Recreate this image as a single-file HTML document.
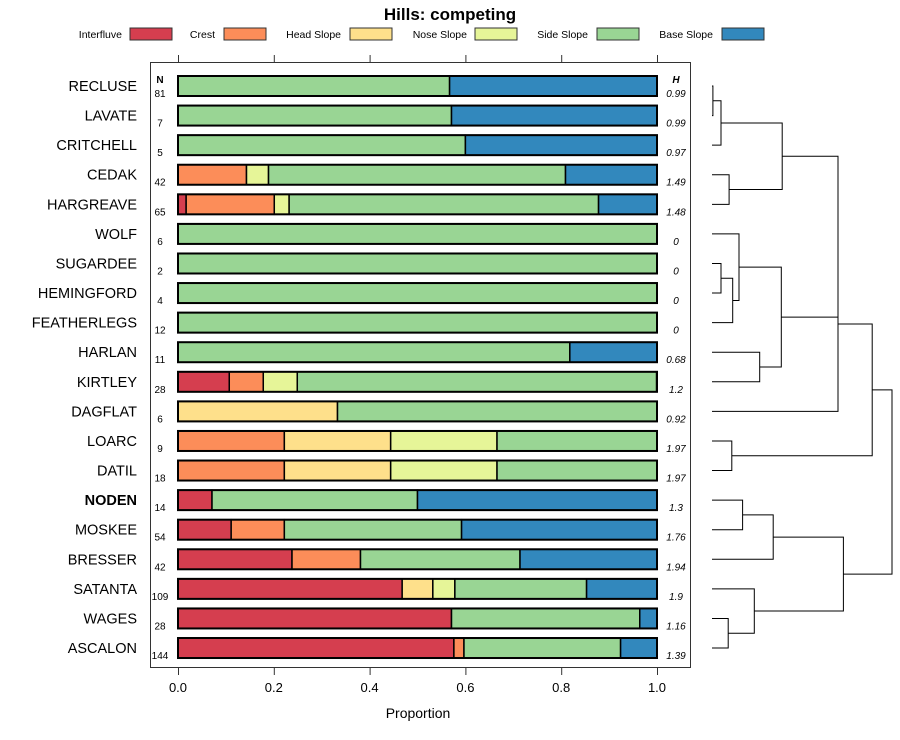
<!DOCTYPE html>
<html><head><meta charset="utf-8"><style>
body{margin:0;background:#fff;font-family:"Liberation Sans",sans-serif}
svg{display:block}
</style></head><body>
<svg id="chart" width="900" height="740" xmlns="http://www.w3.org/2000/svg" font-family="Liberation Sans, sans-serif"></svg>
<script>
const categories=["RECLUSE","LAVATE","CRITCHELL","CEDAK","HARGREAVE","WOLF","SUGARDEE","HEMINGFORD","FEATHERLEGS","HARLAN","KIRTLEY","DAGFLAT","LOARC","DATIL","NODEN","MOSKEE","BRESSER","SATANTA","WAGES","ASCALON"];
const seriesNames=["Interfluve","Crest","Head Slope","Nose Slope","Side Slope","Base Slope"];
const interfluve=[0,0,0,0,0.017,0,0,0,0,0,0.107,0,0,0,0.071,0.111,0.238,0.468,0.571,0.576];
const crest=[0,0,0,0.143,0.184,0,0,0,0,0,0.071,0,0.222,0.222,0,0.111,0.143,0,0,0.021];
const headSlope=[0,0,0,0,0,0,0,0,0,0,0,0.333,0.222,0.222,0,0,0,0.064,0,0];
const noseSlope=[0,0,0,0.046,0.031,0,0,0,0,0,0.071,0,0.222,0.222,0,0,0,0.046,0,0];
const sideSlope=[0.567,0.571,0.6,0.62,0.646,1,1,1,1,0.818,0.75,0.667,0.334,0.334,0.429,0.37,0.333,0.275,0.393,0.327];
const baseSlope=[0.433,0.429,0.4,0.191,0.122,0,0,0,0,0.182,0,0,0,0,0.5,0.408,0.286,0.147,0.036,0.076];
const nValues=["81","7","5","42","65","6","2","4","12","11","28","6","9","18","14","54","42","109","28","144"];
const hValues=["0.99","0.99","0.97","1.49","1.48","0","0","0","0","0.68","1.2","0.92","1.97","1.97","1.3","1.76","1.94","1.9","1.16","1.39"];
const xTicks=["0.0","0.2","0.4","0.6","0.8","1.0"];
const merges=[[0,1,0.005],["m0",2,0.05],[3,4,0.095],["m1","m2",0.39],[6,7,0.05],["m4",8,0.115],[5,"m5",0.15],[9,10,0.265],["m6","m7",0.385],["m3","m8",0.7],["m9",11,0.7],[12,13,0.11],["m10","m11",0.89],[14,15,0.17],["m13",16,0.34],[18,19,0.09],[17,"m15",0.235],["m14","m16",0.73],["m12","m17",1.0]];
const colors=["#D53E4F","#FC8D59","#FEE08B","#E6F598","#99D594","#3288BD"];
const series=[interfluve,crest,headSlope,noseSlope,sideSlope,baseSlope];

const svg=document.getElementById('chart');
const NS="http://www.w3.org/2000/svg";
function mk(tag,attrs,parent){const e=document.createElementNS(NS,tag);for(const k in attrs)e.setAttribute(k,attrs[k]);(parent||svg).appendChild(e);return e;}
const x0=178,x1=657;
const xs=v=>x0+v*(x1-x0);
const rowY=i=>86+i*29.58;
const barH=20;

let t=mk('text',{x:450,y:20,'text-anchor':'middle','font-size':17,'font-weight':'bold'});t.textContent="Hills: competing";



const legTextEnd=[122,215,341,467,588,713];
const legBox=[130,224,350,475,597,722];
seriesNames.forEach((n,k)=>{
  const g=mk('g',{});
  
  
  const tx=mk('text',{x:legTextEnd[k],y:38,'text-anchor':'end','font-size':10.5,fill:'#000'},g);tx.textContent=n;
  mk('rect',{x:legBox[k],y:28,width:42,height:12,fill:colors[k],stroke:'#333','stroke-width':1},g);
});

const panel=mk('rect',{x:150.5,y:62.5,width:540,height:605,fill:'none',stroke:'#333','stroke-width':1});



xTicks.forEach((lab,i)=>{
  const v=parseFloat(lab);const x=xs(v)+0.5;
  mk('line',{x1:x,x2:x,y1:55,y2:62,stroke:'#333'});
  mk('line',{x1:x,x2:x,y1:668,y2:675,stroke:'#333'});
  const tl=mk('text',{x:xs(v),y:692,'text-anchor':'middle','font-size':13});tl.textContent=lab;
  
  
});
const xt=mk('text',{x:418,y:718,'text-anchor':'middle','font-size':14});xt.textContent="Proportion";



let hn=mk('text',{x:160,y:83,'text-anchor':'middle','font-size':10,'font-weight':'bold'});hn.textContent="N";


let hh=mk('text',{x:676,y:83,'text-anchor':'middle','font-size':10,'font-weight':'bold','font-style':'italic'});hh.textContent="H";



categories.forEach((c,i)=>{
  const y=rowY(i);
  const lab=mk('text',{x:137,y:y+5,'text-anchor':'end','font-size':14.5,'font-weight':c==="NODEN"?'bold':'normal'});lab.textContent=c;
  
  
  let acc=0;
  series.forEach((s,k)=>{
    const v=s[i];if(v<=0)return;
    const r=mk('rect',{x:xs(acc),y:y-barH/2,width:xs(acc+v)-xs(acc),height:barH,fill:colors[k],stroke:'#000','stroke-width':1.5});
    
    
    acc+=v;
  });
  mk('rect',{x:x0,y:y-barH/2,width:x1-x0,height:barH,fill:'none',stroke:'#000','stroke-width':2});
  const nt=mk('text',{x:160,y:y+11,'text-anchor':'middle','font-size':10});nt.textContent=nValues[i];
  
  
  const ht=mk('text',{x:676,y:y+11,'text-anchor':'middle','font-size':10,'font-style':'italic'});ht.textContent=hValues[i];
  
  
});

const dx0=712,dx1=892;
const hx=h=>dx0+h*(dx1-dx0);
const nodes={};
function nodeInfo(id){if(typeof id==='number')return {x:dx0,y:rowY(id)};return nodes[id];}
merges.forEach((m,k)=>{
  const a=nodeInfo(m[0]),b=nodeInfo(m[1]);const x=hx(m[2]);
  const p=mk('path',{d:`M${a.x},${a.y}H${x}V${b.y}H${b.x}`,fill:'none',stroke:'#000','stroke-width':1});
  
  
  nodes['m'+k]={x:x,y:(a.y+b.y)/2};
});
</script>
</body></html>
